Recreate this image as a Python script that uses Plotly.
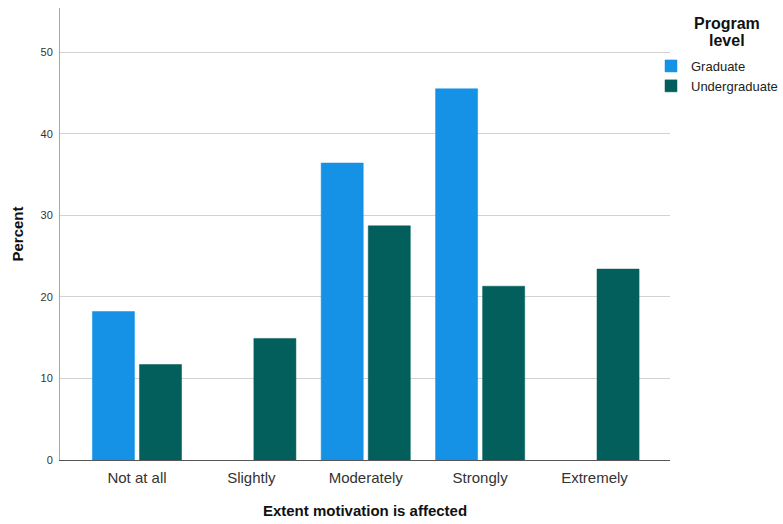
import plotly.graph_objects as go

categories = ["Not at all", "Slightly", "Moderately", "Strongly", "Extremely"]
graduate = [18.2, None, 36.4, 45.5, None]
undergraduate = [11.7, 14.9, 28.7, 21.3, 23.4]
series_names = ["Graduate", "Undergraduate"]
colors = ["#1591E6", "#025F5B"]
y_ticks = [0, 10, 20, 30, 40, 50]
legend_title_lines = ["Program", "level"]

FONT = "Liberation Sans, Arial, sans-serif"
W, H = 783, 524
ML, MR, MT, MB = 60, 113, 8, 64

fig = go.Figure()
for name, vals, col in zip(series_names, [graduate, undergraduate], colors):
    fig.add_trace(go.Bar(
        x=list(range(len(categories))), y=vals, name=name,
        marker=dict(color=col, line=dict(color=col, width=0.5)),
    ))

fig.update_layout(
    width=W, height=H,
    margin=dict(l=ML, r=MR, t=MT, b=MB, autoexpand=False),
    paper_bgcolor="white", plot_bgcolor="white",
    barmode="group", bargap=0.177, bargroupgap=0.106,
    font=dict(family=FONT, color="#222"),
    showlegend=True,
    legend=dict(
        xref="container", yref="container",
        x=651 / W, xanchor="left", y=1 - 51 / H, yanchor="top",
        font=dict(size=13, color="#222"),
        itemwidth=30, tracegroupgap=0,
        bgcolor="rgba(0,0,0,0)",
    ),
    xaxis=dict(
        tickmode="array", tickvals=list(range(len(categories))), ticktext=categories,
        range=[-0.673, 4.66],
        showline=True, linecolor="#555", linewidth=1,
        ticks="", showgrid=False, zeroline=False, ticklabelstandoff=4,
        tickfont=dict(size=15, color="#333"),
        title=dict(text="<b>Extent motivation is affected</b>", font=dict(size=15, color="#111"), standoff=20),
    ),
    yaxis=dict(
        range=[0, 55.4], tickvals=y_ticks,
        showline=True, linecolor="#aaa", linewidth=1,
        showgrid=True, gridcolor="#d2d2d2", gridwidth=1,
        zeroline=False, ticks="", ticklabelstandoff=4,
        tickfont=dict(size=11, color="#333"),
        title=dict(text="<b>Percent</b>", font=dict(size=15, color="#111"), standoff=13),
    ),
)
for line, ypx in zip(legend_title_lines, [23, 40]):
    fig.add_annotation(
        text="<b>" + line + "</b>", xref="paper", yref="paper",
        x=1.0 + 57 / (W - ML - MR), y=1.0 - (ypx - MT) / (H - MT - MB),
        xanchor="center", yanchor="middle",
        showarrow=False, font=dict(size=16, color="#111"),
    )
fig.write_html(
    "out.html",
    config={"displayModeBar": False},
    post_script="document.body.style.margin='0';document.body.style.overflow='hidden';",
)
